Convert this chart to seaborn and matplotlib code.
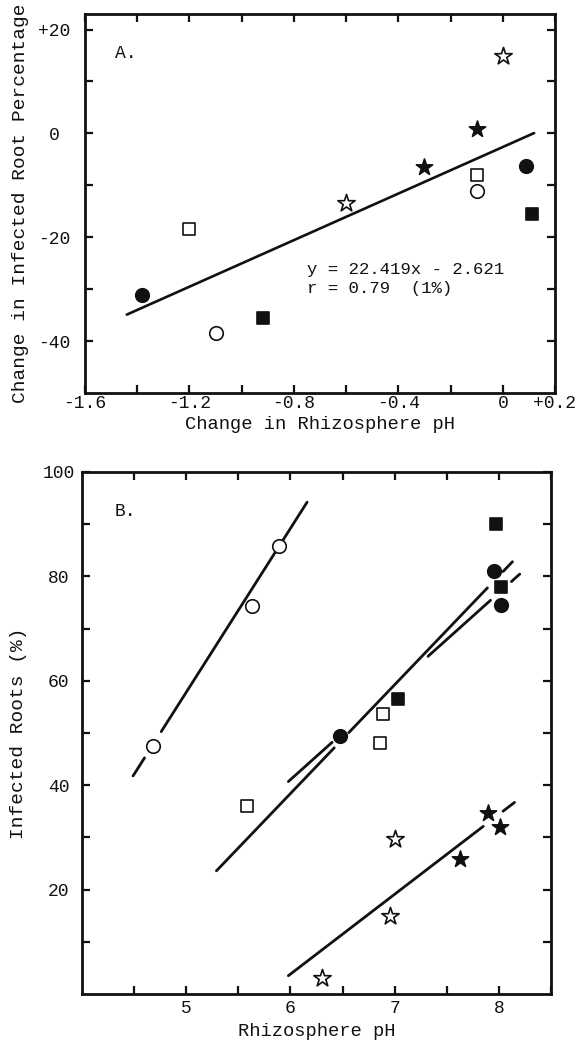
import numpy as np
import pandas as pd
import matplotlib
matplotlib.use("Agg")
import matplotlib.pyplot as plt
import seaborn as sns

# ---------------- Panel A data (change in pH vs change in infected root %) ----
A_FILLED_CIRCLE_X = [-1.38, 0.09]
A_FILLED_CIRCLE_Y = [-31.2, -6.2]
A_OPEN_CIRCLE_X = [-1.10, -0.10]
A_OPEN_CIRCLE_Y = [-38.4, -11.0]
A_FILLED_SQUARE_X = [-0.92, 0.11]
A_FILLED_SQUARE_Y = [-35.5, -15.5]
A_OPEN_SQUARE_X = [-1.20, -0.10]
A_OPEN_SQUARE_Y = [-18.4, -8.0]
A_FILLED_STAR_X = [-0.30, -0.10]
A_FILLED_STAR_Y = [-6.5, 0.8]
A_OPEN_STAR_X = [-0.60, 0.00]
A_OPEN_STAR_Y = [-13.5, 15.0]

A_FIT_SLOPE = 22.419
A_FIT_INTERCEPT = -2.621
A_FIT_X = [-1.44, 0.12]

A_XTICKS = [-1.6, -1.4, -1.2, -1.0, -0.8, -0.6, -0.4, -0.2, 0.0, 0.2]
A_XTICKLABELS = ["-1.6", "", "-1.2", "", "-0.8", "", "-0.4", "", "0", "+0.2"]
A_YTICKS = [-40, -30, -20, -10, 0, 10, 20]
A_YTICKLABELS = ["-40", "", "-20", "", "0", "", "+20"]

# ---------------- Panel B data (rhizosphere pH vs infected roots %) ----------
B_FILLED_CIRCLE_X = [6.48, 7.95, 8.02]
B_FILLED_CIRCLE_Y = [49.4, 81.0, 74.6]
B_OPEN_CIRCLE_X = [4.68, 5.63, 5.89]
B_OPEN_CIRCLE_Y = [47.5, 74.3, 85.9]
B_FILLED_SQUARE_X = [7.03, 7.97, 8.02]
B_FILLED_SQUARE_Y = [56.5, 90.0, 78.0]
B_OPEN_SQUARE_X = [5.58, 6.86, 6.89]
B_OPEN_SQUARE_Y = [36.0, 48.0, 53.7]
B_FILLED_STAR_X = [7.63, 7.90, 8.01]
B_FILLED_STAR_Y = [25.9, 34.7, 31.9]
B_OPEN_STAR_X = [6.30, 6.96, 7.00]
B_OPEN_STAR_Y = [3.1, 14.9, 29.7]

# fitted lines (slope, intercept) and the x-ranges where each is drawn
B_FIT_SLOPES = [31.4, 20.85, 17.9, 15.3]
B_FIT_INTERCEPTS = [-99.2, -86.70, -66.34, -87.99]
B_FIT_SEGMENTS = [
    [(4.49, 4.60), (4.76, 6.16)],
    [(5.29, 6.42), (6.56, 7.89), (8.04, 8.13)],
    [(5.98, 6.40), (7.32, 7.92), (8.12, 8.20)],
    [(5.98, 7.85), (8.04, 8.15)],
]

B_XTICKS = [4.5, 5.0, 5.5, 6.0, 6.5, 7.0, 7.5, 8.0, 8.5]
B_XTICKLABELS = ["", "5", "", "6", "", "7", "", "8", ""]
B_YTICKS = [10, 20, 30, 40, 50, 60, 70, 80, 90, 100]
B_YTICKLABELS = ["", "20", "", "40", "", "60", "", "80", "", "100"]

# ---------------- styling -----------------------------------------------------
sns.set_theme(style="ticks")
plt.rcParams["font.family"] = ["Liberation Mono", "DejaVu Sans"]
plt.rcParams["axes.unicode_minus"] = False
INK = "#111111"

MARKERS = {
    "filled_circle": ("o", INK, 95),
    "open_circle": ("o", "white", 95),
    "filled_square": ("s", INK, 78),
    "open_square": ("s", "white", 78),
    "filled_star": ("*", INK, 150),
    "open_star": ("*", "white", 170),
}


def make_df(groups):
    frames = []
    for name, xs, ys in groups:
        frames.append(pd.DataFrame({"x": xs, "y": ys, "group": name}))
    return pd.concat(frames, ignore_index=True)


df_a = make_df([
    ("filled_circle", A_FILLED_CIRCLE_X, A_FILLED_CIRCLE_Y),
    ("open_circle", A_OPEN_CIRCLE_X, A_OPEN_CIRCLE_Y),
    ("filled_square", A_FILLED_SQUARE_X, A_FILLED_SQUARE_Y),
    ("open_square", A_OPEN_SQUARE_X, A_OPEN_SQUARE_Y),
    ("filled_star", A_FILLED_STAR_X, A_FILLED_STAR_Y),
    ("open_star", A_OPEN_STAR_X, A_OPEN_STAR_Y),
])
df_b = make_df([
    ("filled_circle", B_FILLED_CIRCLE_X, B_FILLED_CIRCLE_Y),
    ("open_circle", B_OPEN_CIRCLE_X, B_OPEN_CIRCLE_Y),
    ("filled_square", B_FILLED_SQUARE_X, B_FILLED_SQUARE_Y),
    ("open_square", B_OPEN_SQUARE_X, B_OPEN_SQUARE_Y),
    ("filled_star", B_FILLED_STAR_X, B_FILLED_STAR_Y),
    ("open_star", B_OPEN_STAR_X, B_OPEN_STAR_Y),
])


def draw_points(ax, df):
    for name, sub in df.groupby("group"):
        mk, face, size = MARKERS[name]
        sns.scatterplot(data=sub, x="x", y="y", marker=mk, s=size,
                        color=face, edgecolor=INK, linewidth=1.2,
                        ax=ax, zorder=4, legend=False)


def style_axes(ax, xticks, xlabels, yticks, ylabels, ypad, xpad):
    for sp in ax.spines.values():
        sp.set_visible(True)
        sp.set_linewidth(2.0)
        sp.set_color(INK)
    ax.set_xticks(xticks)
    ax.set_xticklabels(xlabels)
    ax.set_yticks(yticks)
    ax.set_yticklabels(ylabels)
    ax.tick_params(axis="both", which="major", direction="in", length=6,
                   width=1.6, color=INK, top=True, right=True,
                   labelsize=13, labelcolor=INK)
    ax.tick_params(axis="x", pad=xpad)
    ax.tick_params(axis="y", pad=ypad)
    for lab in ax.get_yticklabels():
        lab.set_horizontalalignment("center")
    ax.grid(False)


fig = plt.figure(figsize=(5.76, 10.4), dpi=100)
fig.patch.set_facecolor("white")

# ---------------- Panel A ------------------------------------------------------
ax_a = fig.add_axes([85 / 576, 1 - 393 / 1040, 470 / 576, 379 / 1040])
fit_x = np.array(A_FIT_X)
sns.lineplot(x=fit_x, y=A_FIT_SLOPE * fit_x + A_FIT_INTERCEPT, ax=ax_a,
             color=INK, linewidth=1.9, estimator=None, sort=False, zorder=2)
draw_points(ax_a, df_a)
ax_a.set_xlim(-1.6, 0.2)
ax_a.set_ylim(-50, 23)
style_axes(ax_a, A_XTICKS, A_XTICKLABELS, A_YTICKS, A_YTICKLABELS, 22, 1.5)
ax_a.set_xlabel("Change in Rhizosphere pH", fontsize=13.5, color=INK)
ax_a.set_ylabel("Change in Infected Root Percentage", fontsize=14, color=INK)
ax_a.xaxis.label.set_va("center")
ax_a.yaxis.label.set_va("center")
ax_a.xaxis.set_label_coords(0.5, -0.082)
ax_a.yaxis.set_label_coords(-0.138, 0.5)
ax_a.text(0.064, 0.897, "A.", transform=ax_a.transAxes, fontsize=13,
          color=INK, ha="left", va="center")
ax_a.text(-0.75, -26.3, "y = 22.419x - 2.621", fontsize=12.5, color=INK,
          ha="left", va="center")
ax_a.text(-0.75, -29.9, "r = 0.79  (1%)", fontsize=12.5, color=INK,
          ha="left", va="center")

# ---------------- Panel B ------------------------------------------------------
ax_b = fig.add_axes([82 / 576, 1 - 994 / 1040, 469 / 576, 522 / 1040])
for slope, icpt, segs in zip(B_FIT_SLOPES, B_FIT_INTERCEPTS, B_FIT_SEGMENTS):
    for x0, x1 in segs:
        sx = np.array([x0, x1])
        sns.lineplot(x=sx, y=slope * sx + icpt, ax=ax_b, color=INK,
                     linewidth=2.0, estimator=None, sort=False, zorder=2)
draw_points(ax_b, df_b)
ax_b.set_xlim(4.0, 8.5)
ax_b.set_ylim(0, 100)
style_axes(ax_b, B_XTICKS, B_XTICKLABELS, B_YTICKS, B_YTICKLABELS, 17, 4)
ax_b.set_xlabel("Rhizosphere pH", fontsize=13.5, color=INK)
ax_b.set_ylabel("Infected Roots (%)", fontsize=14, color=INK)
ax_b.xaxis.label.set_va("center")
ax_b.yaxis.label.set_va("center")
ax_b.xaxis.set_label_coords(0.5, -0.071)
ax_b.yaxis.set_label_coords(-0.136, 0.5)
ax_b.text(0.070, 0.925, "B.", transform=ax_b.transAxes, fontsize=13,
          color=INK, ha="left", va="center")

fig.savefig("out.png", dpi=100, facecolor="white")
